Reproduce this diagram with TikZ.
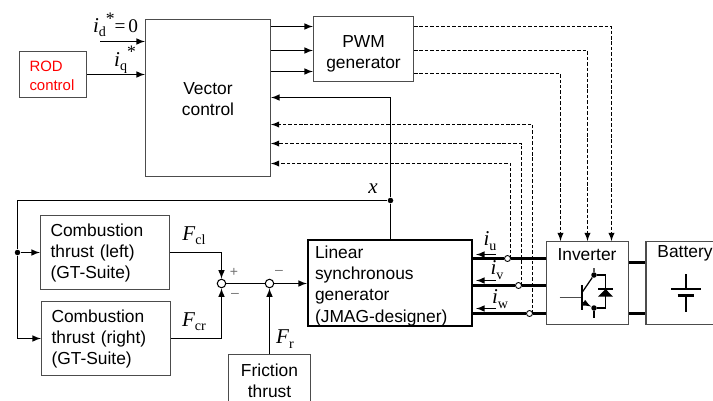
\documentclass[tikz,border=0pt]{standalone}
\usepackage{fontspec}
\setmainfont{Liberation Sans}
\newfontfamily\symfont{Liberation Serif}
\newcommand{\symb}[2]{{\symfont\fontsize{12}{12}\selectfont\itshape #1}\raisebox{-0.45ex}{\symfont\fontsize{8}{8}\selectfont #2}}
\newcommand{\symstar}{\raisebox{0.9ex}{\symfont\fontsize{10}{10}\selectfont *}}
\newcommand{\padtop}[1]{\rule{0pt}{#1}}
\tikzset{
  >=latex,
  blockbox/.style={draw=black!70,line width=0.6pt,inner xsep=0pt,inner ysep=0pt,align=center,
    font=\fontsize{9.9}{12}\selectfont},
  sig/.style={line width=0.7pt},
  gate/.style={line width=0.6pt,dash pattern=on 2pt off 1.1pt},
  power/.style={line width=1.7pt},
  sumnode/.style={circle,draw,fill=white,line width=0.6pt,minimum size=0.17cm,inner sep=0pt},
  tapnode/.style={circle,draw,fill=white,line width=0.5pt,minimum size=0.12cm,inner sep=0pt},
  dotnode/.style={circle,fill=black,minimum size=0.11cm,inner sep=0pt},
  symlabel/.style={inner sep=0pt},
  signlabel/.style={inner sep=0pt,text=black!55,font=\fontsize{8}{8}\selectfont}
}
\begin{document}
\begin{tikzpicture}[x=0.02cm,y=-0.02cm]
\useasboundingbox (0,0) rectangle (713,400);
\clip (0,0) rectangle (713,400);
% blocks
\node[blockbox,minimum width=1.34cm,minimum height=0.92cm,text=red,text width=0.94cm,align=left,
  font=\fontsize{8.5}{10.3}\selectfont] (rod) at (53,74.5) {\padtop{7.5pt}ROD\\control};
\node[blockbox,minimum width=2.5cm,minimum height=3.14cm] (vector) at (208,98) {\padtop{8pt}Vector\\control};
\node[blockbox,minimum width=2cm,minimum height=1.3cm] (pwm) at (363.5,49) {\padtop{12pt}PWM\\generator};
\node[blockbox,minimum width=2.58cm,minimum height=1.48cm,text width=2.18cm,align=left] (combL) at (105,252.5) {\padtop{8pt}Combustion\\thrust (left)\\(GT-Suite)};
\node[blockbox,minimum width=2.58cm,minimum height=1.48cm,text width=2.18cm,align=left] (combR) at (106,338.5) {\padtop{8pt}Combustion\\thrust (right)\\(GT-Suite)};
\node[blockbox,minimum width=1.64cm,minimum height=1.06cm,anchor=north] (fric) at (269.5,353.5) {Friction\\thrust};
\node[blockbox,draw=black,line width=1.2pt,minimum width=3.28cm,minimum height=1.68cm,text width=3.0cm,align=left] (lin) at (390,283) {\padtop{10.5pt}Linear\\synchronous\\generator\\(JMAG-designer)};
\node[blockbox,minimum width=1.64cm,minimum height=1.66cm] (inv) at (587.5,283) {};
\node[inner sep=0pt,font=\fontsize{9.9}{12}\selectfont] (invtext) at (587,255) {Inverter};
\node[blockbox,minimum width=1.7cm,minimum height=1.66cm] (batt) at (688.5,283) {};
\node[inner sep=0pt,font=\fontsize{9.9}{12}\selectfont] (batttext) at (685,253) {Battery};
% junctions
\node[sumnode] (sumA) at (221.5,283.5) {};
\node[sumnode] (sumB) at (269.5,283.5) {};
\node[dotnode] (xdot) at (390.5,200.5) {};
\node[dotnode] (fork) at (17.5,252.5) {};
\coordinate (corner) at (17.5,200.5);
\coordinate (refd) at (100,41.5);
\node[tapnode] (tapU) at (507.5,258.5) {};
\node[tapnode] (tapV) at (518.5,285.5) {};
\node[tapnode] (tapW) at (529.5,313.5) {};
% references
\draw[sig,->] (refd) -- (vector.west |- refd);
\draw[sig,->] (rod.east) -- (vector.west |- rod.east);
\foreach \y in {26.5,50.5,71.5}
  \draw[sig,->] (vector.east |- 0,\y) -- (pwm.west |- 0,\y);
\foreach \y/\x in {26.5/611.5,50.5/587.5,73.5/560.5}
  \draw[gate,->] (pwm.east |- 0,\y) -| (inv.north -| \x,0);
% position feedback
\draw[sig] (lin.north -| xdot) -- (xdot);
\draw[sig,->] (xdot) |- (vector.east |- 0,97.5);
\draw[sig] (xdot) -- (corner) -- (fork);
\draw[sig,->] (fork) -- (combL.west);
\draw[sig,->] (fork) |- (combR.west);
% current feedback
\draw[gate,->] (tapU.east) |- (vector.east |- 0,163.5);
\draw[gate,->] (tapV.east) |- (vector.east |- 0,143.5);
\draw[gate,->] (tapW.east) |- (vector.east |- 0,124.5);
% thrust
\draw[sig,->] (combL.east) -| (sumA.north);
\draw[sig,->] (combR.east) -| (sumA.south);
\draw[sig] (sumA) -- (sumB);
\draw[sig,->] (sumB) -- (lin.west |- sumB);
\draw[sig,->] (fric.north) -- (sumB.south);
% power lines
\foreach \n in {tapU,tapV,tapW} {
  \draw[power] (lin.east |- \n) -- (\n.west);
  \draw[power] (\n.east) -- (inv.west |- \n);
}
\foreach \y in {262.5,313.5}
  \draw[power] (inv.east |- 0,\y) -- (batt.west |- 0,\y);
\foreach \y in {254.5,280.5,308.5}
  \draw[sig,->] (496,\y) -- (476,\y);
% labels
\node[symlabel] (lblrefd) at (115.5,25) {\symb{i}{d}\symstar{\symfont\fontsize{11}{11}\selectfont=\kern1.5pt 0}};
\node[symlabel] (lblrefq) at (125,60) {\symb{i}{q}\symstar};
\node[symlabel] (lblx) at (373,189) {\symfont\fontsize{12}{12}\selectfont\itshape x};
\node[symlabel] (lblFcl) at (194,236) {\symb{F}{cl}};
\node[symlabel] (lblFcr) at (194,322) {\symb{F}{cr}};
\node[symlabel] (lblFr) at (285,339) {\symb{F}{r}};
\node[symlabel] (lbliu) at (490,241) {\symb{i}{u}};
\node[symlabel] (lbliv) at (497,270) {\symb{i}{v}};
\node[symlabel] (lbliw) at (500,299) {\symb{i}{w}};
\node[signlabel] (signA) at (234,272) {+};
\node[signlabel] (signB) at (235,295) {--};
\node[signlabel] (signC) at (279,272) {--};
% switch symbol
\draw[sig,black!70] (559.5,297.5) -- (581.5,297.5);
\draw[line width=1pt] (581.7,285) -- (581.7,310);
\node[dotnode] (igbtC) at (594,275) {};
\node[dotnode] (igbtE) at (594,308) {};
\draw[sig] (594,268) -- (igbtC) -- (581.7,293);
\draw[sig,->] (581.7,301.7) -- (igbtE);
\draw[sig] (igbtE) -- (594,318);
\draw[sig] (igbtC) -- (605.6,275) -- (605.6,308) -- (igbtE);
\fill (598,296.7) -- (613,296.7) -- (605.6,289) -- cycle;
\draw[line width=0.8pt] (598,289) -- (613,289);
% cell symbol
\draw[sig] (686,274) -- (686,289);
\draw[sig] (671,289) -- (701,289);
\draw[line width=1.5pt] (677.7,295.7) -- (694,295.7);
\draw[line width=1pt] (686,296) -- (686,311.6);
\end{tikzpicture}
\end{document}
